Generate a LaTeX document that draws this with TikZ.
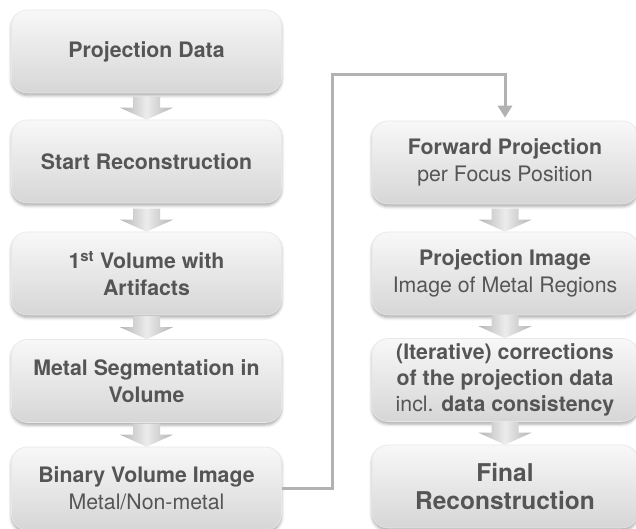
\documentclass[tikz,border=0pt]{standalone}
\usepackage{fontspec}
\setmainfont{TeX Gyre Heros}
\usetikzlibrary{arrows.meta,shadows.blur,calc}
\definecolor{txt}{RGB}{85,85,85}
\definecolor{conn}{RGB}{178,178,178}
\definecolor{boxtop}{RGB}{248,248,248}
\definecolor{boxbot}{RGB}{214,214,214}
\definecolor{boxedge}{RGB}{232,232,232}
\definecolor{arredge}{RGB}{180,180,180}
\definecolor{arrmid}{RGB}{236,236,236}
\newcommand\blockarr[1]{%
  \path[arrowshape] ($(#1.north)+(-13.5,-23)$) -- ($(#1.north)+(13.5,-23)$)
    -- ($(#1.north)+(13.5,-12)$) -- ($(#1.north)+(26.5,-12)$)
    -- ($(#1.north)+(0,0)$) -- ($(#1.north)+(-26.5,-12)$)
    -- ($(#1.north)+(-13.5,-12)$) -- cycle;}
\begin{document}
\begin{tikzpicture}[x=1pt,y=-1pt,
  box/.style={rectangle, rounded corners=16pt, minimum width=270pt,
    minimum height=83pt, top color=boxtop, bottom color=boxbot,
    draw=boxedge, line width=0.6pt,
    blur shadow={shadow xshift=0pt, shadow yshift=-2.5pt,
      shadow blur radius=3pt, shadow opacity=35},
    text=txt, align=center, inner sep=0pt,
    font=\fontsize{21.3}{27}\selectfont\bfseries},
  rbox/.style={box, minimum width=266pt},
  arrowshape/.style={left color=arredge, right color=arredge,
    middle color=arrmid},
  connector/.style={draw=conn, line width=3pt,
    -{Triangle[width=14pt,length=12pt]}, shorten >=3pt}]
\useasboundingbox (0,0) rectangle (636,528);
\clip (0,0) rectangle (636,528);
% left column
\node[box] (p1) at (146.5,51.5) {Projection Data};
\node[box] (p2) at (146.5,161.5) {Start Reconstruction};
\node[box] (p3) at (146.5,273.5) {1\textsuperscript{st} Volume with\\Artifacts};
\node[box] (p4) at (146.5,381) {Metal Segmentation in\\Volume};
\node[box] (p5) at (146.5,488.5) {Binary Volume Image\\{\mdseries Metal/Non-metal}};
% right column
\node[rbox] (q1) at (505,162.5) {Forward Projection\\{\mdseries per Focus Position}};
\node[rbox] (q2) at (505,273.5) {Projection Image\\{\mdseries Image of Metal Regions}};
\node[rbox, font=\fontsize{21.3}{26}\selectfont\bfseries] (q3) at (505,380)
  {(Iterative) corrections\\of the projection data\\{\mdseries incl.} data consistency};
\node[rbox, font=\fontsize{24.5}{28}\selectfont\bfseries] (q4) at (505,486.5)
  {Final\\Reconstruction};
% block arrows
\blockarr{p2}
\blockarr{p3}
\blockarr{p4}
\blockarr{p5}
\blockarr{q2}
\blockarr{q3}
\blockarr{q4}
% connector
\coordinate (c1) at (332,74);
\draw[connector] (p5.east) -| (c1) -| (q1.north);
\end{tikzpicture}
\end{document}
